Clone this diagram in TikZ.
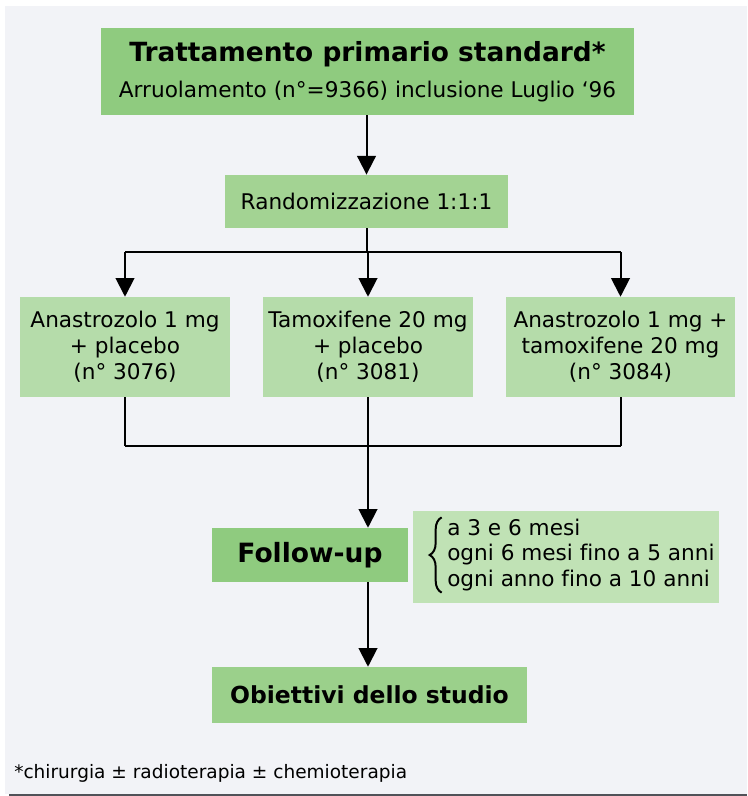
\documentclass[tikz,border=0pt]{standalone}
\usepackage{fontspec}
\setmainfont[Ligatures=NoCommon]{DejaVu Sans}
\usetikzlibrary{arrows.meta,decorations.pathreplacing,calc}

\definecolor{bggray}{RGB}{242,243,247}
\definecolor{greendark}{RGB}{143,203,127}
\definecolor{greenmid}{RGB}{163,211,147}
\definecolor{greenlight}{RGB}{181,220,170}
\definecolor{greenpale}{RGB}{192,226,181}
\definecolor{greengoal}{RGB}{155,208,139}
\definecolor{rulegray}{RGB}{80,82,88}

\begin{document}
\begin{tikzpicture}[x=0.75pt, y=-0.75pt,
  box/.style={fill=#1, inner sep=0pt, align=center,
    font=\fontsize{16.2}{19.5}\selectfont},
  link/.style={line width=1.5pt},
  arrow/.style={link, -{Triangle[width=14pt,length=14pt]}}]

% Page and background
\useasboundingbox (0,0) rectangle (747,796);
\fill[bggray] (4.5,6) rectangle (747,794);
\draw[rulegray, line width=1.5pt] (9,795) -- (747,795);

% Boxes
\node[box=greendark, minimum width=400pt, minimum height=65pt] (start) at (367.5,71.5)
  {{\bfseries\fontsize{19.8}{22}\selectfont Trattamento primario standard*}\\[7.5pt]
   Arruolamento (n°=9366) inclusione Luglio ‘96};
\node[box=greenmid, minimum width=212pt, minimum height=40pt] (rand) at (366.5,201.5)
  {Randomizzazione 1:1:1};

\node[box=greenlight, minimum width=157.5pt, minimum height=75pt] (arm1) at (125,347)
  {Anastrozolo 1 mg\\+ placebo\\(n° 3076)};
\node[box=greenlight, minimum width=157.5pt, minimum height=75pt] (arm2) at (368,347)
  {Tamoxifene 20 mg\\+ placebo\\(n° 3081)};
\node[box=greenlight, minimum width=172pt, minimum height=75pt] (arm3) at (620.5,347)
  {Anastrozolo 1 mg +\\tamoxifene 20 mg\\(n° 3084)};

\node[box=greendark, minimum width=147pt, minimum height=40.5pt,
  font=\bfseries\fontsize{19.9}{22}\selectfont] (follow) at (310,555) {Follow-up};
\node[box=greenpale, minimum width=229.5pt, minimum height=69pt] (note) at (566,557) {};
\node[align=left, inner sep=0pt, anchor=west,
  font=\fontsize{16.2}{19.2}\selectfont] (notetext) at (447,555)
  {a 3 e 6 mesi\\ogni 6 mesi fino a 5 anni\\ogni anno fino a 10 anni};
\draw[link, decorate, decoration={brace, amplitude=9pt}]
  ([xshift=-4pt,yshift=-1pt]notetext.south west) -- ([xshift=-4pt,yshift=1pt]notetext.north west);

\node[box=greengoal, minimum width=236pt, minimum height=42pt,
  font=\bfseries\fontsize{17.6}{20}\selectfont] (goal) at (369.5,695) {Obiettivi dello studio};

% Footnote
\node[anchor=west, inner sep=0pt, font=\fontsize{13.9}{16}\selectfont] (foot) at (14,773)
  {*chirurgia ± radioterapia ± chemioterapia};

% Connectors
\draw[arrow] (start.south -| rand) -- (rand.north);
\coordinate (split) at ($(rand.south)+(0,24)$);
\draw[link] (rand.south) -- (split);
\draw[link] (split -| arm1) -- (split -| arm3);
\foreach \a in {arm1,arm2,arm3}
  \draw[arrow] (split -| \a) -- (\a.north);

\coordinate (join) at ($(arm2.south)+(0,49)$);
\foreach \a in {arm1,arm2,arm3}
  \draw[link] (\a.south) -- (join -| \a);
\draw[link] (join -| arm1) -- (join -| arm3);
\draw[arrow] (join) -- (follow.north -| join);
\draw[arrow] (follow.south -| join) -- (goal.north -| join);

\end{tikzpicture}
\end{document}
